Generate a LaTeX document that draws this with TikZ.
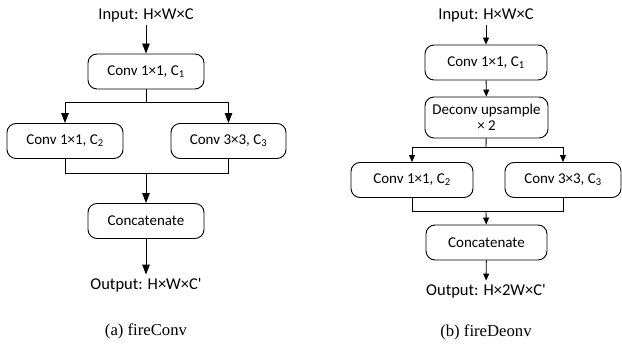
\documentclass[tikz,border=0pt]{standalone}
\usepackage{fontspec}
\setmainfont{Liberation Serif}
\newfontfamily\boxfont{Carlito}
\usetikzlibrary{arrows.meta,positioning}
\tikzset{
  every node/.style={font=\boxfont\fontsize{16.5}{18}\selectfont},
  block/.style={draw, line width=0.9pt, rounded corners=9pt, minimum height=35pt, align=center, inner sep=1pt, font=\boxfont\fontsize{15}{16}\selectfont},
  subcap/.style={font=\rmfamily\fontsize{16.7}{18}\selectfont},
  link/.style={line width=0.9pt},
  flow/.style={-{Triangle[length=10pt,width=7.5pt]}, line width=0.9pt},
  flowsmall/.style={-{Triangle[length=7pt,width=6pt]}, line width=0.9pt},
}

\begin{document}
\begin{tikzpicture}[x=1pt,y=-1pt]
  \useasboundingbox (0,0) rectangle (622,344);
  % (a) fireConv
  \node (inA) at (146,15) {Input: H×W×C};
  \node[block, minimum width=116pt] (c1A) at (146,71.5) {Conv 1×1, C\textsubscript{1}};
  \node[block, minimum width=116pt] (c2A) at (65,141) {Conv 1×1, C\textsubscript{2}};
  \node[block, minimum width=115pt] (c3A) at (228.5,141) {Conv 3×3, C\textsubscript{3}};
  \node[block, minimum width=116pt] (catA) at (146,221) {Concatenate};
  \node (outA) at (146,285) {Output: H×W×C'};
  \node[subcap] (capA) at (146,331) {(a) fireConv};
  \coordinate (splitA) at (146,102);
  \coordinate (mergeA) at (146,173);
  \draw[flow] (inA) -- (c1A);
  \draw[link] (c1A) -- (splitA);
  \draw[flow] (splitA) -| (c2A);
  \draw[flow] (splitA) -| (c3A);
  \draw[link] (c2A) |- (mergeA);
  \draw[link] (c3A) |- (mergeA);
  \draw[flow] (mergeA) -- (catA);
  \draw[flow] (catA) -- (outA);
  % (b) fireDeonv
  \node (inB) at (486,15) {Input: H×W×C};
  \node[block, minimum width=122pt] (c1B) at (486,62.5) {Conv 1×1, C\textsubscript{1}};
  \node[block, minimum width=123pt, minimum height=41pt] (dcB) at (486.5,117.5) {Deconv upsample\\ × 2};
  \node[block, minimum width=122pt] (c2B) at (412,180) {Conv 1×1, C\textsubscript{2}};
  \node[block, minimum width=116pt] (c3B) at (563,180) {Conv 3×3, C\textsubscript{3}};
  \node[block, minimum width=121pt] (catB) at (486.5,242.5) {Concatenate};
  \node (outB) at (486,291) {Output: H×2W×C'};
  \node[subcap] (capB) at (486,332) {(b) fireDeonv};
  \coordinate (splitB) at (486,147);
  \coordinate (mergeB) at (486,211);
  \draw[flowsmall] (inB) -- (c1B);
  \draw[flowsmall] (c1B) -- (dcB);
  \draw[link] (dcB) -- (splitB);
  \draw[flowsmall] (splitB) -| (c2B);
  \draw[flowsmall] (splitB) -| (c3B);
  \draw[link] (c2B) |- (mergeB);
  \draw[link] (c3B) |- (mergeB);
  \draw[flowsmall] (mergeB) -- (catB);
  \draw[flowsmall] (catB) -- (outB);
\end{tikzpicture}
\end{document}
